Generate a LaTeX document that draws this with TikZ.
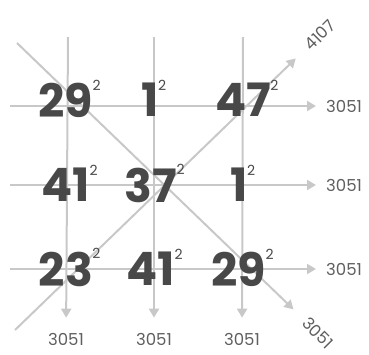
\documentclass[tikz,border=0pt]{standalone}
\usepackage{fontspec}
\setmainfont{Poppins}
\usepackage{xcolor}
\usetikzlibrary{arrows.meta,positioning}

\definecolor{linegray}{RGB}{200,200,200}
\definecolor{numgray}{RGB}{72,72,72}
\definecolor{lblgray}{RGB}{95,95,95}

\begin{document}
\begin{tikzpicture}[x=1pt,y=-1pt,
  gridline/.style={draw=linegray, line width=2pt, -{Triangle[width=10pt,length=9pt]}},
  sq/.style={font=\fontsize{46}{46}\selectfont\bfseries, text=numgray, inner sep=0pt},
  pw/.style={font=\fontsize{14}{14}\selectfont, text=numgray, inner sep=0pt},
  lbl/.style={font=\fontsize{16.5}{16.5}\selectfont, text=lblgray, inner sep=0pt}]
\useasboundingbox (0,0) rectangle (369,354);

% start points of the lines
\coordinate (v1) at (68,37);
\coordinate (v2) at (154,37);
\coordinate (v3) at (243,37);
\coordinate (h1) at (10,106);
\coordinate (h2) at (10,185);
\coordinate (h3) at (10,269);
\coordinate (dd) at (17,43);
\coordinate (du) at (15,330);

% sums
\node[lbl, anchor=west] (r1) at (326,106) {3051};
\node[lbl, anchor=west] (r2) at (326,185) {3051};
\node[lbl, anchor=west] (r3) at (326,269) {3051};
\node[lbl] (b1) at (66,339) {3051};
\node[lbl] (b2) at (154,339) {3051};
\node[lbl] (b3) at (242,339) {3051};
\node[lbl, rotate=45] (tu) at (320,35) {4107};
\node[lbl, rotate=-45] (td) at (318,333) {3051};

\foreach \a/\b/\s in {v1/b1/15,v2/b2/15,v3/b3/15,h1/r1/10,h2/r2/10,h3/r3/10,dd/td/16,du/tu/16}
  \draw[gridline, shorten >=\s pt] (\a) -- (\b);

% the squares
\foreach \n/\x/\y/\t in {a/66/100/29, b/150/100/1, c/243/100/47,
                         d/66/185/41, e/151/185/37, f/239/185/1,
                         g/66/269/23, h/151/269/41, i/239/269/29}{
  \node[sq] (\n) at (\x,\y) {\t};
  \node[pw, anchor=north west, xshift=-1pt, yshift=3pt] (\n p) at (\n.north east) {2};
}
\end{tikzpicture}
\end{document}
